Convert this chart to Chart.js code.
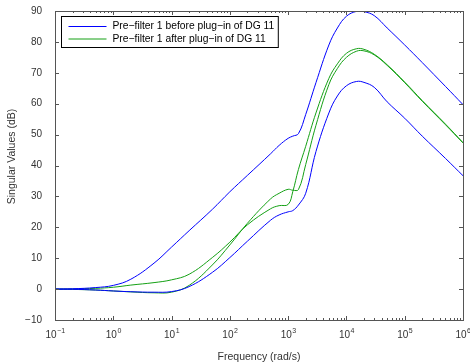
<!DOCTYPE html>
<html>
<head>
<meta charset="utf-8">
<script src="https://cdn.jsdelivr.net/npm/chart.js@4.4.1/dist/chart.umd.min.js"></script>
<style>
  html, body { margin: 0; padding: 0; background: #fff; }
</style>
</head>
<body>
<canvas id="canvas" width="470" height="363"></canvas>
<script>
// frequencies (rad/s) shared by all curves
const freqs = [0.1, 0.2, 0.5, 1, 2, 5, 10, 20, 50, 100, 200, 500, 700, 1000, 1200, 1500,
               2000, 3000, 5000, 7000, 1e4, 1.5e4, 2e4, 3e4, 5e4, 1e5, 2e5, 5e5, 1e6];

// singular values (dB) before plug-in of DG 11
const beforeHigh = [0, 0.1, 0.5, 1.2, 3.2, 8.4, 13.6, 18.9, 25.8, 31.5, 36.8, 43.8, 46.5, 48.8, 49.5, 50.3,
                    56.5, 66.8, 79.0, 84.5, 88.3, 89.9, 89.8, 88.5, 84.5, 79.0, 73.3, 65.6, 59.7];
const beforeLow  = [0, -0.05, -0.3, -0.6, -0.85, -1.0, -0.8, 0.8, 5.4, 10.2, 15.5, 22.3, 24.0, 25.0, 25.4, 27.2,
                    31.0, 44.5, 57.0, 62.5, 65.8, 67.2, 66.9, 65.3, 60.6, 55.3, 49.5, 42.3, 36.7];

// singular values (dB) after plug-in of DG 11
const afterA = [0, 0.05, 0.25, 0.6, 1.3, 2.1, 3.0, 4.8, 10.2, 15.2, 20.8, 26.0, 27.0, 27.4, 31.5, 38.7,
                46.2, 57.0, 68.2, 72.9, 76.3, 77.8, 77.6, 76.0, 72.6, 67.0, 61.0, 53.4, 47.4];
const afterB = [0, -0.1, -0.3, -0.6, -0.9, -1.2, -1.0, 1.2, 7.8, 14.3, 21.3, 29.2, 31.0, 32.3, 32.0, 32.2,
                40.3, 53.0, 66.2, 71.4, 75.0, 77.0, 77.1, 75.8, 72.4, 66.8, 60.8, 53.2, 47.3];

const yTicks = [-10, 0, 10, 20, 30, 40, 50, 60, 70, 80, 90];
const xDecades = [-1, 0, 1, 2, 3, 4, 5, 6];
const legendLabels = ['Pre\u2212filter 1 before plug\u2212in of DG 11', 'Pre\u2212filter 1 after plug\u2212in of DG 11'];
const yTitle = 'Singular Values (dB)';

const BLUE = '#0000ff';
const GREEN = '#14a014';
const FONT = "'Liberation Sans', Arial, Helvetica, sans-serif";
const AXIS_COLOR = '#555';
const TEXT_COLOR = '#333';

function pontos(valores) {
    return freqs.map((f, i) => ({ x: f, y: valores[i] }));
}

function curva(valores, cor) {
    return {
        data: pontos(valores),
        borderColor: cor,
        borderWidth: 1,
        pointRadius: 0,
        fill: false,
        tension: 0.4
    };
}

// box with inward ticks, decade labels, y title and the legend
const boxAxes = {
    id: 'boxAxes',
    afterDraw(chart) {
        const { ctx, chartArea: a, scales: { x, y } } = chart;
        ctx.save();
        ctx.strokeStyle = AXIS_COLOR;
        ctx.lineWidth = 1;
        ctx.beginPath();
        xDecades.forEach(d => {
            for (let m = 1; m <= 9; m++) {
                const v = m * Math.pow(10, d);
                if (v > x.max) break;
                const px = Math.round(x.getPixelForValue(v)) + 0.5;
                const len = m === 1 ? 4 : 2;
                ctx.moveTo(px, a.bottom); ctx.lineTo(px, a.bottom - len);
                ctx.moveTo(px, a.top); ctx.lineTo(px, a.top + len);
            }
        });
        yTicks.forEach(v => {
            const py = Math.round(y.getPixelForValue(v)) + 0.5;
            ctx.moveTo(a.left, py); ctx.lineTo(a.left + 4, py);
            ctx.moveTo(a.right, py); ctx.lineTo(a.right - 4, py);
        });
        ctx.stroke();
        ctx.strokeRect(Math.round(a.left) + 0.5, Math.round(a.top) + 0.5,
                       Math.round(a.right - a.left), Math.round(a.bottom - a.top));

        // 10^n labels under the axis
        ctx.fillStyle = TEXT_COLOR;
        ctx.textBaseline = 'alphabetic';
        ctx.textAlign = 'left';
        xDecades.forEach(d => {
            const px = x.getPixelForValue(Math.pow(10, d));
            const exp = d < 0 ? '\u2212' + (-d) : String(d);
            ctx.font = '10px ' + FONT;
            const wBase = ctx.measureText('10').width;
            ctx.font = '7px ' + FONT;
            const wExp = ctx.measureText(exp).width;
            const x0 = px - (wBase + wExp) / 2;
            ctx.font = '10px ' + FONT;
            ctx.fillText('10', x0, a.bottom + 17.5);
            ctx.font = '7px ' + FONT;
            ctx.fillText(exp, x0 + wBase + 0.5, a.bottom + 12.5);
        });

        // y axis title, a little above the middle of the axis
        ctx.save();
        ctx.translate(12, (a.top + a.bottom) / 2 - 9);
        ctx.rotate(-Math.PI / 2);
        ctx.textAlign = 'center';
        ctx.textBaseline = 'middle';
        ctx.font = '10.5px ' + FONT;
        ctx.fillText(yTitle, 0, 0);
        ctx.restore();

        // legend
        ctx.font = '10.3px ' + FONT;
        const textW = Math.max(...legendLabels.map(t => ctx.measureText(t).width));
        const lx = Math.round(a.left) + 6.5, ly = Math.round(a.top) + 5.5;
        const lw = 51 + textW + 4, lh = 31;
        ctx.fillStyle = '#fff';
        ctx.fillRect(lx, ly, lw, lh);
        ctx.strokeStyle = '#000';
        ctx.strokeRect(lx, ly, lw, lh);
        ctx.textBaseline = 'middle';
        ctx.textAlign = 'left';
        [BLUE, GREEN].forEach((cor, i) => {
            const ry = ly + 10 + i * 12.5;
            ctx.strokeStyle = cor;
            ctx.beginPath();
            ctx.moveTo(lx + 7, ry); ctx.lineTo(lx + 45, ry);
            ctx.stroke();
            ctx.fillStyle = '#000';
            ctx.fillText(legendLabels[i], lx + 51, ry);
        });
        ctx.restore();
    }
};

const ctx = document.getElementById('canvas').getContext('2d');
const chart = new Chart(ctx, {
    type: 'line',
    data: {
        datasets: [
            curva(beforeHigh, BLUE),
            curva(beforeLow, BLUE),
            curva(afterA, GREEN),
            curva(afterB, GREEN)
        ]
    },
    options: {
        responsive: false,
        animation: false,
        events: [],
        layout: { padding: { top: 9, right: 7, left: 0, bottom: 0 } },
        plugins: {
            legend: { display: false },
            tooltip: { enabled: false }
        },
        scales: {
            x: {
                type: 'logarithmic',
                min: 0.1,
                max: 1e6,
                grid: { display: false },
                border: { display: false },
                ticks: { display: false },
                title: {
                    display: true,
                    text: 'Frequency (rad/s)',
                    color: TEXT_COLOR,
                    font: { family: FONT, size: 10.5 },
                    padding: { top: 7, bottom: 0 }
                },
                afterFit: s => { s.height = 43; }
            },
            y: {
                min: -10,
                max: 90,
                grid: { display: false },
                border: { display: false },
                afterBuildTicks: s => { s.ticks = yTicks.map(v => ({ value: v })); },
                ticks: {
                    color: TEXT_COLOR,
                    font: { family: FONT, size: 10 },
                    padding: 5,
                    callback: v => v < 0 ? '\u2212' + (-v) : String(v)
                },
                afterFit: s => { s.width = 55; }
            }
        }
    },
    plugins: [boxAxes]
});
</script>
</body>
</html>
